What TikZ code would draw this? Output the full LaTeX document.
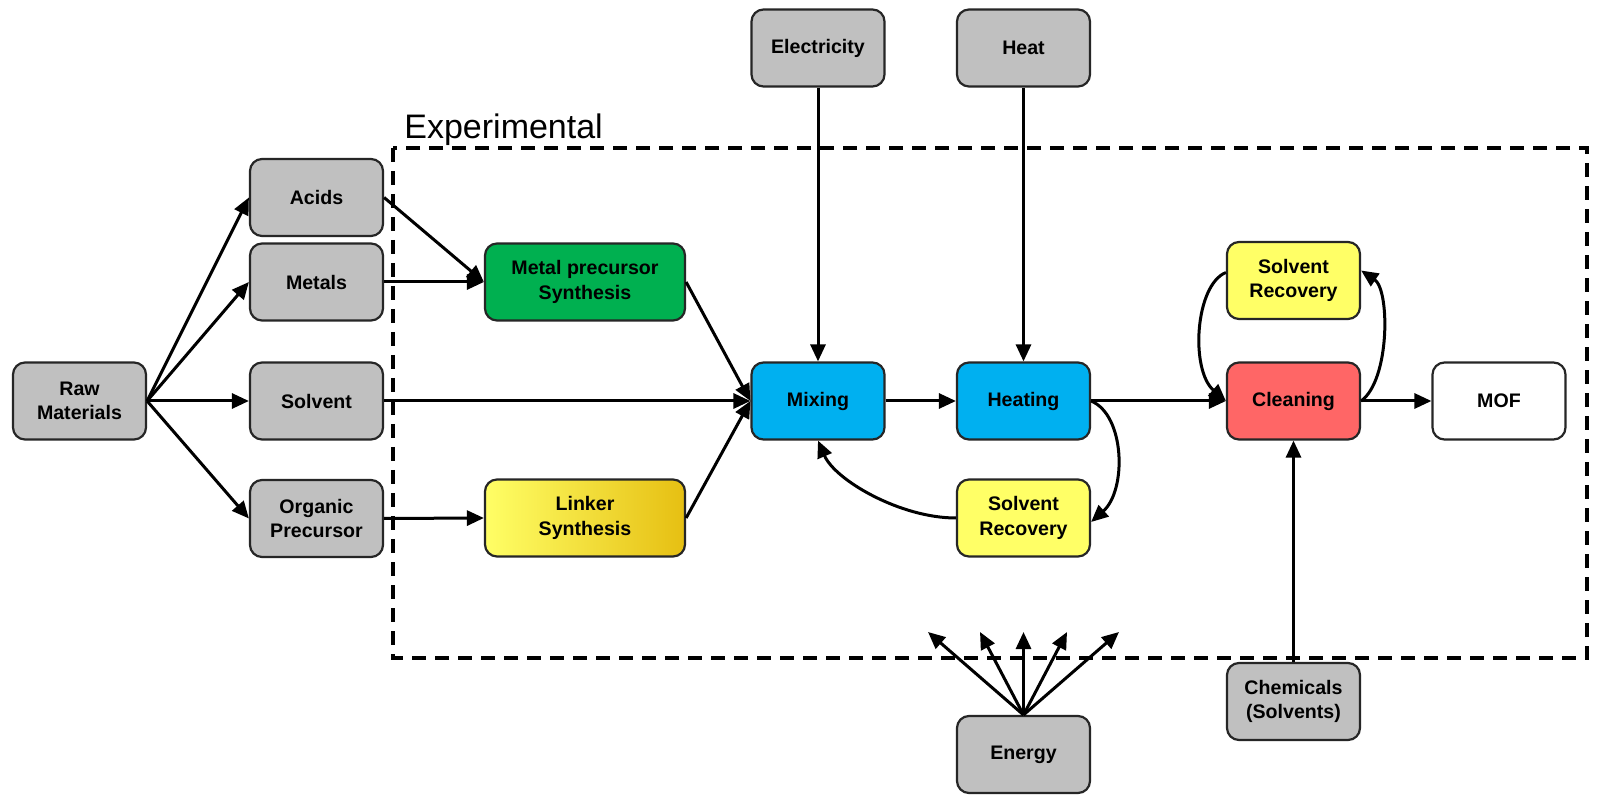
\documentclass[tikz,border=0pt]{standalone}
\usepackage{fontspec}
\setsansfont{Liberation Sans}
\newfontfamily\nodefont{Liberation Sans}
\usetikzlibrary{arrows.meta}
\definecolor{boxgray}{HTML}{C0C0C0}
\definecolor{mgreen}{HTML}{00B050}
\definecolor{myellow}{HTML}{FFFF66}
\definecolor{mgold}{HTML}{E6BF12}
\definecolor{mblue}{HTML}{00B0F0}
\definecolor{mred}{HTML}{FF6666}
\tikzset{
  box/.style={draw=black!85, line width=1.1pt, rounded corners=6pt,
    minimum width=66.5pt, minimum height=38.5pt, align=center, inner sep=0pt,
    font=\nodefont\bfseries\fontsize{9.8}{12.3}\selectfont},
  graybox/.style={box, fill=boxgray},
  widebox/.style={box, minimum width=100pt},
  arr/.style={-{Triangle[length=8.5pt,width=7.5pt]}, line width=1.5pt},
  dashbox/.style={line width=1.8pt, dash pattern=on 7pt off 4.5pt},
}
\begin{document}
\begin{tikzpicture}[x=0.5pt,y=-0.5pt]
\useasboundingbox[fill=white] (0,0) rectangle (1600,801);
% experimental region
\draw[dashbox] (393,148) rectangle (1587,658);
\node[anchor=base west, inner sep=0pt, font=\sffamily\fontsize{17}{20}\selectfont] (exp) at (404,139) {Experimental};
% nodes
\node[graybox] (raw) at (79.5,401) {Raw\\Materials};
\node[graybox] (acids) at (316.5,197.5) {Acids};
\node[graybox] (metals) at (316.5,282) {Metals};
\node[graybox] (solvent) at (316.5,401) {Solvent};
\node[graybox] (organic) at (316.5,518.5) {Organic\\Precursor};
\node[widebox, fill=mgreen] (metalp) at (585,282) {Metal precursor\\Synthesis};
\node[widebox, left color=myellow, middle color=myellow!85!mgold, right color=mgold] (linker) at (585,518) {Linker\\Synthesis};
\node[box, fill=mblue] (mixing) at (818,401) {Mixing};
\node[box, fill=mblue] (heating) at (1023.5,401) {Heating};
\node[box, fill=myellow] (sr1) at (1023.5,518) {Solvent\\Recovery};
\node[box, fill=myellow] (sr2) at (1293.5,280.5) {Solvent\\Recovery};
\node[box, fill=mred] (cleaning) at (1293.5,401) {Cleaning};
\node[box, fill=white] (mof) at (1499,401) {MOF};
\node[graybox] (elec) at (818,48) {Electricity};
\node[graybox] (heat) at (1023.5,48) {Heat};
\node[graybox] (energy) at (1023.5,754.5) {Energy};
\node[graybox] (chem) at (1293.5,701.5) {Chemicals\\(Solvents)};
% energy fan targets
\coordinate (e1) at (928,632);
\coordinate (e2) at (980,632);
\coordinate (e3) at (1023.5,632);
\coordinate (e4) at (1067,632);
\coordinate (e5) at (1119,632);
% connectors
\draw[arr] (raw.east) -- (acids.west);
\draw[arr] (raw.east) -- (metals.west);
\draw[arr] (raw.east) -- (solvent.west);
\draw[arr] (raw.east) -- (organic.west);
\draw[arr] (acids.east) -- (metalp.west);
\draw[arr] (metals.east) -- (metalp.west);
\draw[arr] (solvent.east) -- (mixing.west);
\draw[arr] (organic.east) -- (linker.west);
\draw[arr] (metalp.east) -- (mixing.west);
\draw[arr] (linker.east) -- (mixing.west);
\draw[arr] (elec.south) -- (mixing.north);
\draw[arr] (heat.south) -- (heating.north);
\draw[arr] (mixing.east) -- (heating.west);
\draw[arr] (heating.east) -- (cleaning.west);
\draw[arr] (cleaning.east) -- (mof.west);
\draw[arr] (chem.north) -- (cleaning.south);
\draw[arr] (heating.east) .. controls (1125,415) and (1127,490) .. ([yshift=-2pt]sr1.east);
\draw[arr] (sr1.west) .. controls (900,518) and (835,480) .. (mixing.south);
\draw[arr] (cleaning.east) .. controls (1390,380) and (1390,290) .. ([yshift=5pt]sr2.east);
\draw[arr] ([yshift=4pt]sr2.west) .. controls (1195,285) and (1190,370) .. (cleaning.west);
\foreach \i in {1,...,5} { \draw[arr] (energy.north) -- (e\i); }
\end{tikzpicture}
\end{document}
